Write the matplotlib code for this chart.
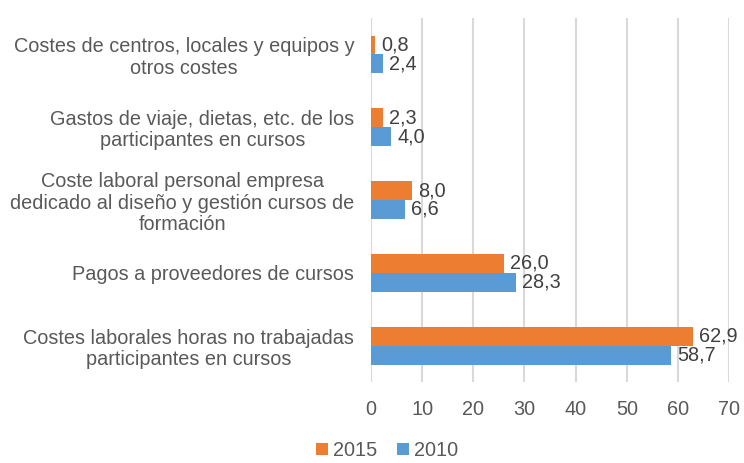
import matplotlib.pyplot as plt
import numpy as np

plt.rcParams["font.family"] = ["Liberation Sans", "DejaVu Sans"]

categories = [
    "Costes laborales horas no trabajadas\nparticipantes en cursos",
    "Pagos a proveedores de cursos",
    "Coste laboral personal empresa\ndedicado al diseño y gestión cursos de\nformación",
    "Gastos de viaje, dietas, etc. de los\nparticipantes en cursos",
    "Costes de centros, locales y equipos y\notros costes",
]
values_2015 = [62.9, 26.0, 8.0, 2.3, 0.8]
values_2010 = [58.7, 28.3, 6.6, 4.0, 2.4]
xticks = [0, 10, 20, 30, 40, 50, 60, 70]

ORANGE = "#ED7D31"
BLUE = "#5B9BD5"
TEXT = "#595959"
FS = 14.3

fig = plt.figure(figsize=(7.44, 4.63), dpi=100)
ax = fig.add_axes([0.4987, 0.175, 0.4813, 0.786])

y = np.arange(len(categories))
h = 0.26
b15 = ax.barh(y + h / 2, values_2015, height=h, color=ORANGE, label="2015")
b10 = ax.barh(y - h / 2, values_2010, height=h, color=BLUE, label="2010")

for bars, vals in ((b15, values_2015), (b10, values_2010)):
    for bar, v in zip(bars, vals):
        ax.text(bar.get_width() + 1.2, bar.get_y() + bar.get_height() / 2,
                f"{v:.1f}".replace(".", ","), va="center", ha="left",
                fontsize=FS, color="#404040")

ax.set_xlim(0, 70)
ax.set_ylim(-0.5, len(categories) - 0.5)
ax.set_xticks(xticks)
ax.set_xticklabels([str(t) for t in xticks], fontsize=FS, color=TEXT)
ax.set_yticks(y)
ax.set_yticklabels(categories, fontsize=FS, color=TEXT, multialignment="center",
                   linespacing=1.15)
ax.tick_params(axis="both", length=0)
ax.tick_params(axis="y", pad=12)
ax.tick_params(axis="x", pad=13)
ax.grid(axis="x", color="#D9D9D9", linewidth=1.5)
ax.set_axisbelow(True)
for s in ax.spines.values():
    s.set_visible(False)

handles, labels = ax.get_legend_handles_labels()
fig.legend(handles, labels, loc="lower center", bbox_to_anchor=(0.52, -0.032),
           ncol=2, frameon=False, fontsize=FS, handlelength=0.6,
           handleheight=0.6, handletextpad=0.25, columnspacing=1.0,
           labelcolor=TEXT)

fig.savefig("out.png", dpi=100)
